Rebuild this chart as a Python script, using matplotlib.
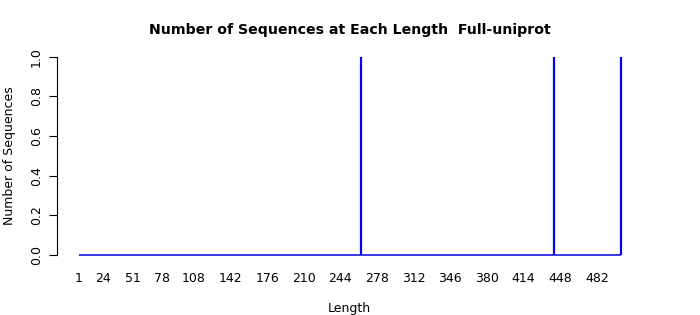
import numpy as np
import matplotlib
matplotlib.use('Agg')
import matplotlib.pyplot as plt

# lengths seen in the set, and how many sequences have each one
seq_lengths = [263, 442, 504]
seq_counts = [1, 1, 1]
min_length = 1
max_length = 504

x_tick_labels = [1, 24, 51, 78, 108, 142, 176, 210, 244, 278, 312, 346, 380, 414, 448, 482]
y_ticks = [0.0, 0.2, 0.4, 0.6, 0.8, 1.0]

# one count per length, zero where no sequence has that length
all_lengths = np.arange(min_length, max_length + 1)
all_counts = np.zeros(len(all_lengths))
for l, c in zip(seq_lengths, seq_counts):
    all_counts[l - min_length] = c

fig = plt.figure(figsize=(7, 3.15), dpi=100)
ax = fig.add_axes([0.0814, 0.165, 0.836, 0.68])

# R-style type="h": a spike per length, on a baseline
ax.hlines(0, all_lengths[0], all_lengths[-1], color='#2a2ae8', linewidth=1.3)
ax.vlines(all_lengths, 0, all_counts, color='blue', linewidth=1.6)

span = max_length - min_length
ax.set_xlim(min_length - 0.04 * span, max_length + 0.04 * span)
ax.set_ylim(-0.04, 1.04)

for s in ['top', 'right', 'bottom']:
    ax.spines[s].set_visible(False)
ax.spines['left'].set_bounds(0, 1)
ax.spines['left'].set_linewidth(0.8)

ax.set_yticks(y_ticks)
ax.set_yticklabels(['%.1f' % v for v in y_ticks], rotation=90, va='center', fontsize=9)
ax.tick_params(axis='y', length=6, width=0.8, pad=4)

ax.set_xticks(x_tick_labels)
ax.set_xticklabels([str(v) for v in x_tick_labels], fontsize=9)
ax.tick_params(axis='x', length=0, pad=6.5)

ax.set_xlabel('Length', fontsize=9, labelpad=12.5)
ax.set_ylabel('Number of Sequences', fontsize=9, labelpad=10.5)
ax.set_title('Number of Sequences at Each Length  Full-uniprot', fontsize=10.2,
             fontweight='bold', pad=11)

fig.savefig('out.png', dpi=100)
